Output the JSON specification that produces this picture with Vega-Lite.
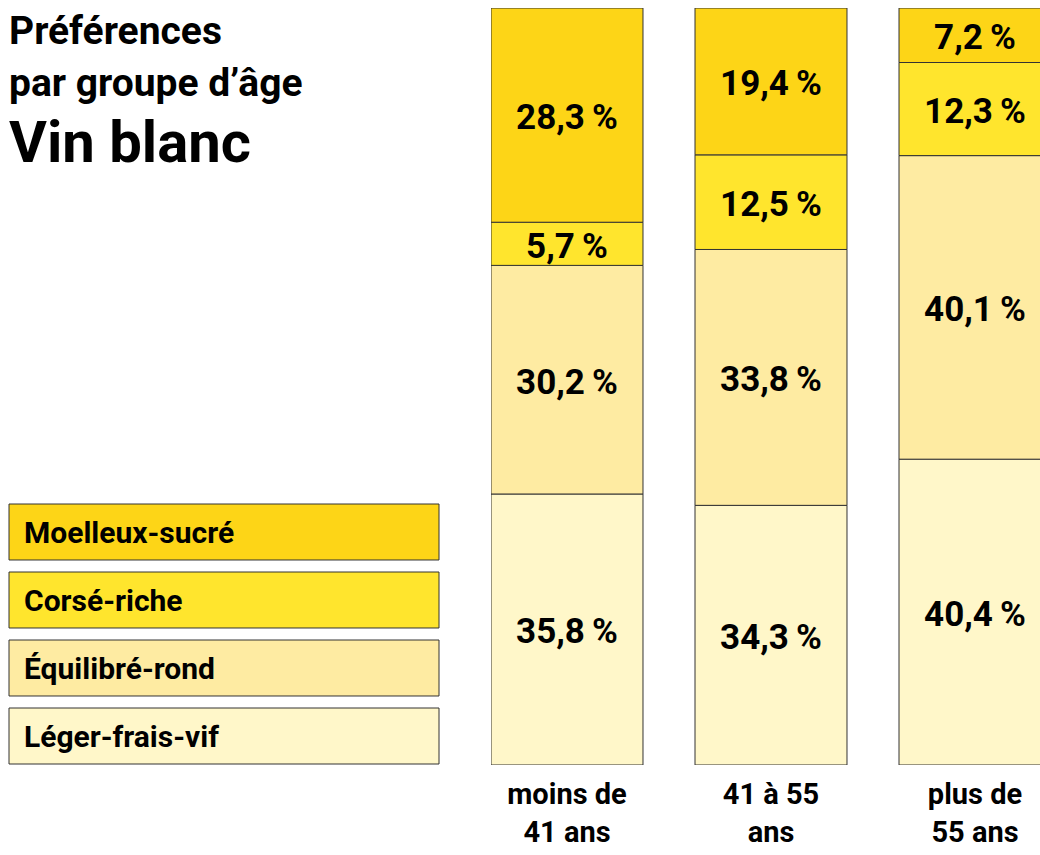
{
  "$schema": "https://vega.github.io/schema/vega-lite/v6.json",
  "padding": {"left": 8, "top": 8, "right": 0, "bottom": 0},
  "background": "white",
  "spacing": 51,
  "title": {
    "text": ["Préférences", "par groupe d’âge"],
    "subtitle": "Vin blanc",
    "anchor": "start",
    "frame": "group",
    "orient": "top",
    "offset": -166,
    "font": "Roboto",
    "fontSize": 39,
    "fontWeight": "bold",
    "lineHeight": 52,
    "color": "black",
    "subtitleFont": "Roboto",
    "subtitleFontSize": 58,
    "subtitleFontWeight": "bold",
    "subtitleColor": "black",
    "subtitlePadding": 12
  },
  "config": {
    "view": {"stroke": null},
    "font": "Roboto",
    "axis": {"domain": false, "ticks": false, "grid": false}
  },
  "datasets": {
    "prefs": [
      {"age": "moins de|41 ans", "style": "Léger-frais-vif", "rank": 1, "value": 35.8},
      {"age": "moins de|41 ans", "style": "Équilibré-rond", "rank": 2, "value": 30.2},
      {"age": "moins de|41 ans", "style": "Corsé-riche", "rank": 3, "value": 5.7},
      {"age": "moins de|41 ans", "style": "Moelleux-sucré", "rank": 4, "value": 28.3},
      {"age": "41 à 55|ans", "style": "Léger-frais-vif", "rank": 1, "value": 34.3},
      {"age": "41 à 55|ans", "style": "Équilibré-rond", "rank": 2, "value": 33.8},
      {"age": "41 à 55|ans", "style": "Corsé-riche", "rank": 3, "value": 12.5},
      {"age": "41 à 55|ans", "style": "Moelleux-sucré", "rank": 4, "value": 19.4},
      {"age": "plus de|55 ans", "style": "Léger-frais-vif", "rank": 1, "value": 40.4},
      {"age": "plus de|55 ans", "style": "Équilibré-rond", "rank": 2, "value": 40.1},
      {"age": "plus de|55 ans", "style": "Corsé-riche", "rank": 3, "value": 12.3},
      {"age": "plus de|55 ans", "style": "Moelleux-sucré", "rank": 4, "value": 7.2}
    ]
  },
  "hconcat": [
    {
      "width": 430,
      "height": 757,
      "data": {"name": "prefs"},
      "transform": [{"filter": "datum.age == 'moins de|41 ans'"}],
      "layer": [
        {
          "mark": {"type": "rect", "stroke": "#333333", "strokeWidth": 1},
          "encoding": {
            "x": {"datum": 0, "type": "quantitative", "scale": {"domain": [0, 1], "nice": false}, "axis": null},
            "x2": {"datum": 1},
            "y": {
              "field": "style", "type": "nominal",
              "sort": ["Moelleux-sucré", "Corsé-riche", "Équilibré-rond", "Léger-frais-vif"],
              "scale": {"range": [496, 756], "paddingInner": 0.1765, "paddingOuter": 0},
              "axis": null
            },
            "color": {
              "field": "style", "type": "nominal",
              "scale": {
                "domain": ["Moelleux-sucré", "Corsé-riche", "Équilibré-rond", "Léger-frais-vif"],
                "range": ["#FDD517", "#FFE52D", "#FEEBA2", "#FFF7C9"]
              },
              "legend": null
            }
          }
        },
        {
          "mark": {"type": "text", "align": "left", "dx": 15, "dy": 2, "baseline": "middle", "fontSize": 30, "fontWeight": "bold", "color": "black"},
          "encoding": {
            "x": {"datum": 0, "type": "quantitative"},
            "y": {"field": "style", "type": "nominal", "sort": ["Moelleux-sucré", "Corsé-riche", "Équilibré-rond", "Léger-frais-vif"]},
            "text": {"field": "style"}
          }
        }
      ]
    },
    {
      "width": 549,
      "height": 757,
      "data": {"name": "prefs"},
      "transform": [
        {"stack": "value", "groupby": ["age"], "sort": [{"field": "rank", "order": "ascending"}], "as": ["v0", "v1"]},
        {"calculate": "(datum.v0 + datum.v1) / 2", "as": "mid"},
        {"calculate": "replace(format(datum.value, '.1f'), '.', ',') + '\u2009%'", "as": "label"}
      ],
      "encoding": {
        "x": {
          "field": "age", "type": "nominal",
          "sort": ["moins de|41 ans", "41 à 55|ans", "plus de|55 ans"],
          "scale": {"range": [0, 560], "paddingInner": 0.255, "paddingOuter": 0},
          "axis": {
            "title": null,
            "labelAngle": 0,
            "labelExpr": "split(datum.label, '|')",
            "labelFont": "Roboto",
            "labelFontSize": 29,
            "labelFontWeight": "bold",
            "labelColor": "black",
            "labelPadding": 15,
            "labelLineHeight": 38,
            "labelBaseline": "top"
          }
        }
      },
      "layer": [
        {
          "mark": {"type": "bar", "stroke": "#333333", "strokeWidth": 1, "clip": true},
          "encoding": {
            "y": {"field": "v0", "type": "quantitative", "scale": {"domain": [0, 100], "nice": false}, "axis": null},
            "y2": {"field": "v1"},
            "color": {"field": "style", "type": "nominal", "legend": null}
          }
        },
        {
          "mark": {"type": "text", "baseline": "middle", "dy": 3, "fontSize": 35, "fontWeight": "bold", "color": "black", "clip": true},
          "encoding": {
            "y": {"field": "mid", "type": "quantitative"},
            "text": {"field": "label"}
          }
        }
      ]
    }
  ]
}
